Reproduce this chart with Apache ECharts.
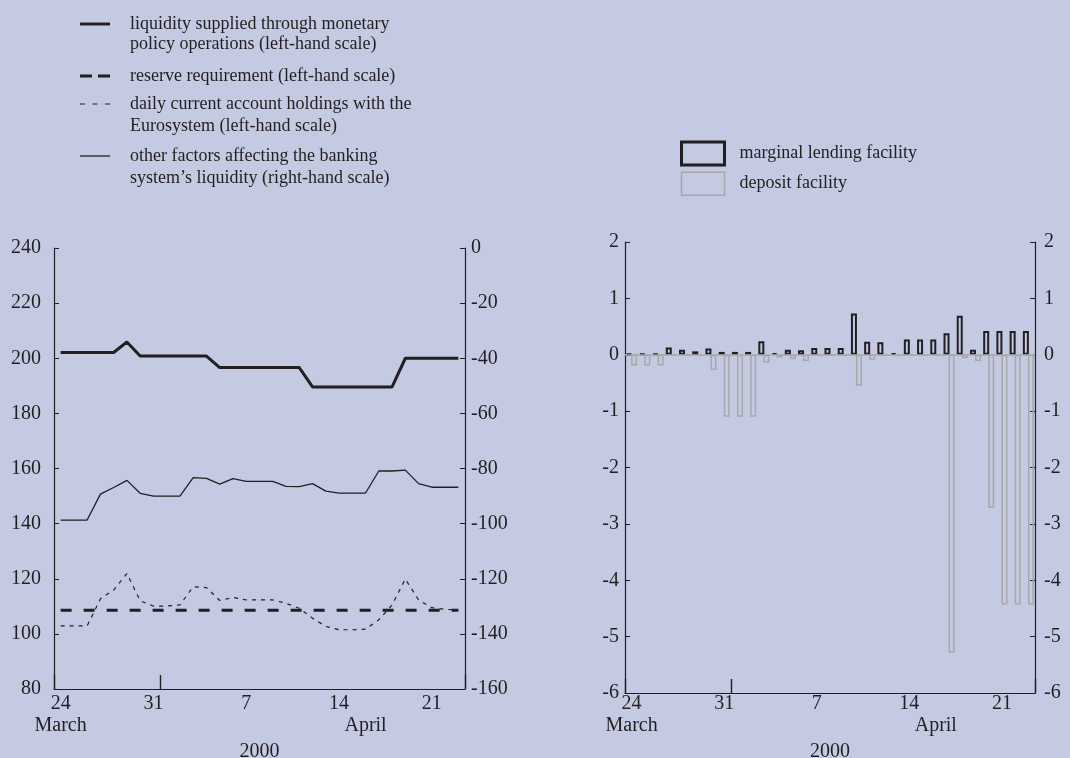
<!DOCTYPE html>
<html>
<head>
<meta charset="utf-8">
<script src="https://cdn.jsdelivr.net/npm/echarts@6/dist/echarts.min.js"></script>
<style>
html,body{margin:0;padding:0;background:#c5cae3;}
#c{width:1070px;height:758px;}
</style>
</head>
<body>
<div id="c"></div>
<script>
// ---- data ----
const days = ['24','25','26','27','28','29','30','31','1','2','3','4','5','6','7','8','9','10','11','12','13','14','15','16','17','18','19','20','21','22','23'];
const tickDays = ['24','31','7','14','21'];
const monthNames = ['March','April'];
const monthLabelDays = ['24','16'];
const yearLabel = '2000';

const liquidity = [202.1,202.1,202.1,202.1,202.1,205.9,200.8,200.8,200.8,200.8,200.8,200.8,196.6,196.6,196.6,196.6,196.6,196.6,196.6,189.6,189.6,189.6,189.6,189.6,189.6,189.6,200,200,200,200,200];
const reserve = [108.6,108.6,108.6,108.6,108.6,108.6,108.6,108.6,108.6,108.6,108.6,108.6,108.6,108.6,108.6,108.6,108.6,108.6,108.6,108.6,108.6,108.6,108.6,108.6,108.6,108.6,108.6,108.6,108.6,108.6,108.6];
const currentAccount = [102.9,102.9,102.9,112.7,115.9,121.9,112,110.1,110.1,110.5,117.1,116.8,112.1,113.2,112.3,112.3,112.3,111.1,109.3,105.7,102.7,101.5,101.5,101.7,105.1,110.5,119.9,112.3,109.5,108.9,108.7];
const otherFactors = [-98.7,-98.7,-98.7,-89.3,-86.9,-84.3,-89,-90,-90,-90,-83.3,-83.6,-85.7,-83.7,-84.7,-84.7,-84.7,-86.5,-86.6,-85.5,-88.2,-88.9,-88.9,-88.9,-80.9,-80.9,-80.6,-85.5,-86.8,-86.8,-86.8];
const marginal = [0.02,0.02,0.02,0.13,0.09,0.06,0.11,0.05,0.05,0.05,0.24,0.03,0.09,0.08,0.12,0.12,0.12,0.73,0.23,0.22,0.03,0.27,0.27,0.27,0.38,0.69,0.09,0.42,0.42,0.42,0.42];
const deposit = [-0.19,-0.19,-0.19,-0.02,-0.02,-0.02,-0.27,-1.10,-1.10,-1.10,-0.14,-0.05,-0.08,-0.11,-0.02,-0.02,-0.02,-0.55,-0.09,-0.02,-0.02,-0.02,-0.02,-0.02,-5.28,-0.06,-0.11,-2.72,-4.43,-4.43,-4.43];

const names = [
  'liquidity supplied through monetary\npolicy operations (left-hand scale)',
  'reserve requirement (left-hand scale)',
  'daily current account holdings with the\nEurosystem (left-hand scale)',
  'other factors affecting the banking\nsystem\u2019s liquidity (right-hand scale)',
  'marginal lending facility',
  'deposit facility'
];

// ---- styling ----
const INK = '#231f20';
const GRAY = '#a8a8a8';
const BG = '#c5cae3';
const FONT = 'Liberation Serif';
const axisFont = {fontFamily: FONT, fontSize: 20, color: INK};
const legendFont = {fontFamily: FONT, fontSize: 18, color: INK};

function xLabel(val) {
  let s = tickDays.indexOf(val) >= 0 ? val : '';
  const m = monthLabelDays.indexOf(val);
  if (m >= 0) s += '\n' + monthNames[m];
  return s;
}
// month boundary tick (start of April); first day included so boundaries are resolved
const bigTickDays = ['24', '1'];

function mainX(grid, margin, nameGap) {
  return {
    type: 'category', gridIndex: grid, data: days, boundaryGap: true, position: 'bottom',
    axisLine: {onZero: false, lineStyle: {color: INK, width: 1.2}},
    axisTick: {inside: true, length: 5, interval: 0, lineStyle: {color: INK, width: 1}},
    axisLabel: {interval: 0, formatter: xLabel, margin: margin, lineHeight: 22, ...axisFont},
    name: yearLabel, nameLocation: 'middle', nameGap: nameGap,
    nameTextStyle: {...axisFont}
  };
}
function bigTickX(grid) {
  return {
    type: 'category', gridIndex: grid, data: days, boundaryGap: true, position: 'bottom',
    axisLine: {show: false, onZero: false},
    axisTick: {show: true, inside: true, length: 14, interval: (i, v) => bigTickDays.indexOf(v) >= 0,
      lineStyle: {color: INK, width: 1.4}},
    axisLabel: {show: false}
  };
}
function hiddenY(grid) {
  return {type: 'value', gridIndex: grid, min: 0, max: 1, show: false};
}
function yAx(grid, pos, min, max, interval, margin) {
  return {
    type: 'value', gridIndex: grid, position: pos, min: min, max: max, interval: interval,
    splitLine: {show: false},
    axisLine: {show: true, lineStyle: {color: INK, width: 1.2}},
    axisTick: {show: true, inside: true, length: 5, lineStyle: {color: INK}},
    axisLabel: {margin: margin, ...axisFont}
  };
}

// legend icons drawn as small paths (line samples)
const ICON_SOLID = 'rect';
const ICON_DASH = 'path://M0,0h12v3h-12z M18,0h12v3h-12z';
const ICON_DOT = 'path://M0,0h5v1h-5z M12.5,0h5v1h-5z M25,0h5v1h-5z';

function lineLegend(name, top, icon, h) {
  return {
    data: [{name: name, icon: icon, itemStyle: {color: INK, borderWidth: 0}}],
    left: 80, top: top, orient: 'vertical', padding: 0,
    itemWidth: 30, itemHeight: h, selectedMode: false,
    formatter: n => n.split('\n')[0],
    textStyle: {...legendFont, lineHeight: 22, padding: [0, 0, 0, 15]}
  };
}
function secondLine(name, y) {
  return {type: 'text', left: 130, top: y - 11, silent: true,
    style: {text: name.split('\n')[1], font: '18px "Liberation Serif"', fill: INK, lineHeight: 22}};
}

const gridL = {left: 54, top: 248, width: 411, height: 441, outerBoundsMode: 'none', containLabel: false};
const gridR = {left: 625, top: 242, width: 410, height: 451, outerBoundsMode: 'none', containLabel: false};

const option = {
  backgroundColor: BG,
  animation: false,
  grid: [gridL, gridR, {...gridL}, {...gridR}],
  legend: [
    lineLegend(names[0], 13, ICON_SOLID, 3),
    lineLegend(names[1], 65, ICON_DASH, 3),
    lineLegend(names[2], 93, ICON_DOT, 1.6),
    lineLegend(names[3], 145, ICON_SOLID, 1.3),
    {
      data: [
        {name: names[4], icon: 'rect', itemStyle: {color: 'rgba(0,0,0,0)', borderColor: INK, borderWidth: 3}},
        {name: names[5], icon: 'rect', itemStyle: {color: 'rgba(0,0,0,0)', borderColor: GRAY, borderWidth: 1.5}}
      ],
      left: 680, top: 140.5, orient: 'vertical', padding: 0, itemGap: 5,
      itemWidth: 43, itemHeight: 23, selectedMode: false,
      textStyle: {...legendFont, lineHeight: 22, padding: [0, 0, 0, 10]}
    }
  ],
  graphic: [
    secondLine(names[0], 44),
    secondLine(names[2], 126),
    secondLine(names[3], 178)
  ],
  xAxis: [mainX(0, 4, 44), mainX(1, 0, 40), bigTickX(2), bigTickX(3)],
  yAxis: [
    yAx(0, 'left', 80, 240, 20, 13),
    yAx(0, 'right', -160, 0, 20, 6),
    yAx(1, 'left', -6, 2, 1, 6),
    yAx(1, 'right', -6, 2, 1, 9),
    hiddenY(2), hiddenY(3)
  ],
  series: [
    {name: names[3], type: 'line', xAxisIndex: 0, yAxisIndex: 1, data: otherFactors,
      symbol: 'none', lineStyle: {color: INK, width: 1.3}, itemStyle: {color: INK}},
    {name: names[2], type: 'line', xAxisIndex: 0, yAxisIndex: 0, data: currentAccount,
      symbol: 'none', lineStyle: {color: INK, width: 1.2, type: [4, 5]}, itemStyle: {color: INK}},
    {name: names[1], type: 'line', xAxisIndex: 0, yAxisIndex: 0, data: reserve,
      symbol: 'none', lineStyle: {color: INK, width: 3, type: [11, 12]}, itemStyle: {color: INK}},
    {name: names[0], type: 'line', xAxisIndex: 0, yAxisIndex: 0, data: liquidity,
      symbol: 'none', lineStyle: {color: INK, width: 3}, itemStyle: {color: INK}},
    {name: names[4], type: 'bar', xAxisIndex: 1, yAxisIndex: 2, data: marginal, barWidth: 6, barGap: '-16%',
      itemStyle: {color: 'rgba(0,0,0,0)', borderColor: INK, borderWidth: 2}, z: 3},
    {name: names[5], type: 'bar', xAxisIndex: 1, yAxisIndex: 2, data: deposit, barWidth: 6, barGap: '-16%',
      itemStyle: {color: 'rgba(0,0,0,0)', borderColor: GRAY, borderWidth: 1.5}, z: 2,
      markLine: {silent: true, symbol: 'none', label: {show: false},
        lineStyle: {color: GRAY, width: 1.5, type: 'solid'}, data: [{yAxis: 0}]}}
  ]
};

const chart = echarts.init(document.getElementById('c'), null, {renderer: 'canvas'});
chart.setOption(option);
</script>
</body>
</html>
